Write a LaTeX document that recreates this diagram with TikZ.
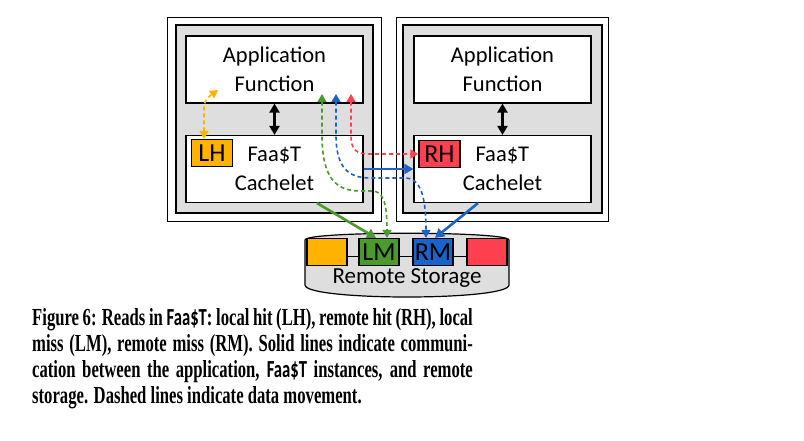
\documentclass[tikz,border=0pt]{standalone}
\usepackage{fontspec}
\usepackage{graphicx}
\setmainfont{Liberation Serif}
\newfontfamily\carlito{Carlito}
\usetikzlibrary{calc, positioning, arrows.meta}

\definecolor{cOrange}{HTML}{FFB300}
\definecolor{cGreen}{HTML}{4A9A2C}
\definecolor{cBlue}{HTML}{1A62CC}
\definecolor{cRed}{HTML}{FF4050}
\definecolor{cGray}{HTML}{DEDEDE}

\newcommand{\capfont}{\fontsize{24.5}{26}\selectfont\bfseries}
\newcommand{\faast}{{\carlito\bfseries Faa\$T}}
\newcommand{\cachetext}{\makebox[54pt][l]{Faa\$T}\\Cachelet}

\tikzset{
  box/.style={draw, line width=1.2pt, fill=white, align=center, inner sep=0pt,
    font=\carlito\fontsize{22.5}{29}\selectfont, minimum width=177pt, minimum height=67pt},
  tag/.style={draw, line width=1.2pt, inner sep=0pt, font=\carlito\fontsize{26}{26}\selectfont,
    minimum width=41pt, minimum height=27pt},
  ctrl/.style={line width=2.6pt, -{Triangle[length=9pt,width=10pt]}},
  both/.style={{Triangle[length=9pt,width=10pt]}-{Triangle[length=9pt,width=10pt]}},
  data/.style={line width=1.6pt, dash pattern=on 4pt off 3pt,
    {Triangle[length=8pt,width=9pt]}-{Triangle[length=8pt,width=9pt]}},
}

\begin{document}
\begin{tikzpicture}[x=1pt, y=-1pt]
  \useasboundingbox (0,0) rectangle (804,440);
  % servers
  \draw[line width=1pt] (167,17) rectangle (381,221);
  \draw[line width=1.2pt, fill=cGray] (176,25) rectangle (373,213);
  \draw[line width=1pt] (396,17) rectangle (608,221);
  \draw[line width=1.2pt, fill=cGray] (403,25) rectangle (602,213);

  \node[box] (appL) at (274.5,69.5) {Application\\Function};
  \node[box] (cacheL) at (274.5,169) {\cachetext};
  \node[box] (appR) at (502.5,69.5) {Application\\Function};
  \node[box] (cacheR) at (502.5,169) {\cachetext};
  \node[tag, fill=cOrange] (lh) at (212,153) {LH};
  \node[tag, fill=cRed] (rh) at (439.5,154) {RH};

  % remote storage
  \draw[line width=1.2pt, fill=cGray] (305,240) .. controls (305,231) and (509,231) .. (509,240)
    -- (509,285) .. controls (509,301) and (305,301) .. (305,285) -- cycle;
  \node[tag, fill=cOrange, minimum width=40pt] (sto0) at (327,252) {};
  \node[tag, fill=cGreen, minimum width=40pt] (lm) at (379,252) {LM};
  \node[tag, fill=cBlue, minimum width=40pt] (rm) at (433,252) {RM};
  \node[tag, fill=cRed, minimum width=40pt] (sto3) at (487,252) {};
  \foreach \a/\b in {sto0/lm, lm/rm, rm/sto3}
    \draw[line width=1pt] ([yshift=-4pt]\a.east) -- ([yshift=-4pt]\b.west);
  \node[font=\carlito\fontsize{23}{23}\selectfont, anchor=base] (storage) at (407,283) {Remote Storage};

  % control
  \draw[ctrl, both] (appL) -- (cacheL);
  \draw[ctrl, both] (appR) -- (cacheR);
  \draw[ctrl, cBlue] (cacheL) -- (cacheR);
  \draw[ctrl, cGreen] ([xshift=42.5pt]cacheL.south) -- ([xshift=-3pt]lm.north);
  \draw[ctrl, cBlue] ([xshift=-24.5pt]cacheR.south) -- ([xshift=2pt]rm.north);

  % data movement
  \coordinate (lhIn) at (218,90);
  \coordinate (lmIn) at (322,94);
  \coordinate (rmIn) at (336,94);
  \coordinate (rhIn) at (351,94);
  \draw[data, cOrange] ([xshift=-8pt]lh.north) -- (204,108) .. controls (204,99) and (211,95) .. (lhIn);
  \draw[data, cGreen] (lmIn) -- (322,135) .. controls (322,178) and (336,191) .. (360,191) -- (372,191)
    .. controls (384,191) and (387,205) .. ([xshift=8pt]lm.north);
  \draw[data, cBlue] (rmIn) -- (336,135) .. controls (336,166) and (347,178) .. (370,178) -- (405,178)
    .. controls (420,178) and (426,195) .. ([xshift=-7pt]rm.north);
  \draw[data, cRed] (rhIn) -- (351,135) .. controls (351,150) and (356,154) .. (370,154) -- (rh.west);

  % caption
  \node[anchor=north west, inner sep=0pt] (caption) at (32,308) {\scalebox{0.68}[1]{\parbox{648pt}{\capfont
    \makebox[648pt][s]{Figure 6: Reads in \faast: local hit (LH), remote hit (RH), local}\\
    \makebox[648pt][s]{miss (LM), remote miss (RM). Solid lines indicate communi-}\\
    \makebox[648pt][s]{cation between the application, \faast{} instances, and remote}\\
    storage. Dashed lines indicate data movement.}}};
\end{tikzpicture}
\end{document}
